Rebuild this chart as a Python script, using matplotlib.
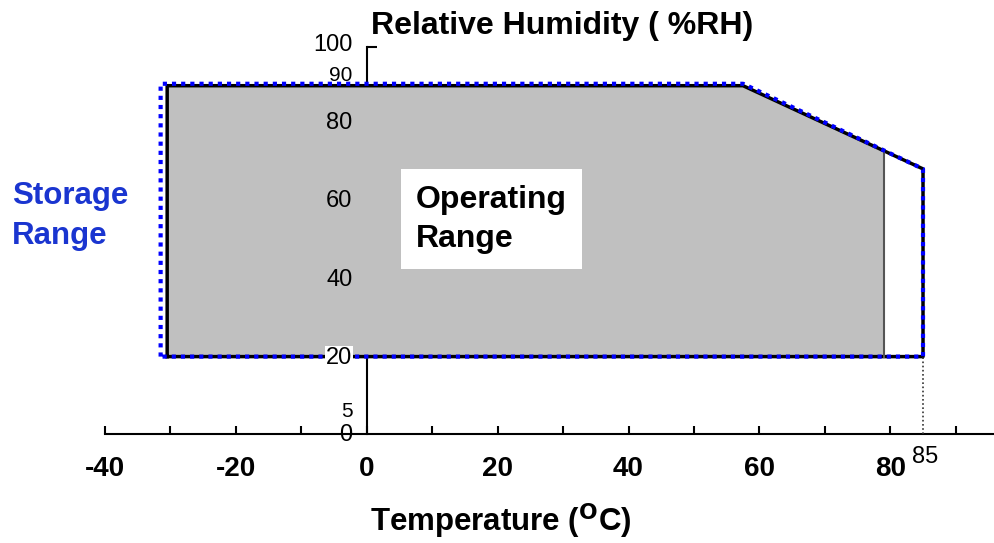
import matplotlib
matplotlib.use("Agg")
import matplotlib.pyplot as plt
from matplotlib import rcParams

rcParams['font.family'] = 'Liberation Sans'

# operating range outline (temperature degC, humidity %RH)
op_temp = [-30.5, -30.5, 57.5, 79, 79]
op_rh = [20, 90, 90, 73, 20]

# storage range outline
st_temp = [-31.5, -31.5, 57.5, 85, 85]
st_rh = [20, 90.5, 90.5, 68.5, 20]

x_ticks = list(range(-40, 100, 10))
x_labels = [-40, -20, 0, 20, 40, 60, 80]
y_ticks = [40, 60, 80, 100]
y_labels = [100, 90, 80, 60, 40, 20, 5, 0]

fig = plt.figure(figsize=(9.95, 5.43), dpi=100)
ax = fig.add_axes([105 / 995, 109 / 543, 890 / 995, 387 / 543])
ax.set_xlim(-39.85, 96.0)
ax.set_ylim(0, 100)

# spines as axes through the origin
for s in ['top', 'right']:
    ax.spines[s].set_visible(False)
ax.spines['left'].set_position(('data', 0))
ax.spines['left'].set_bounds(0, 100)
ax.spines['bottom'].set_position(('data', 0))
for s in ['left', 'bottom']:
    ax.spines[s].set_linewidth(1.5)
    ax.spines[s].set_zorder(1)

ax.set_xticks(x_ticks)
ax.set_yticks(y_ticks)
ax.tick_params(axis='x', direction='in', length=6, width=1.5, labelbottom=False)
ax.tick_params(axis='y', direction='in', length=7, width=1.5, labelleft=False)

# storage: white area
ax.fill(st_temp, st_rh, color='white', zorder=2)
# operating: grey area
ax.fill(op_temp, op_rh, facecolor='#c0c0c0', edgecolor='none', zorder=3)
# black outline of the whole region
ax.plot(op_temp[:3] + st_temp[3:] + [op_temp[0]], op_rh[:3] + st_rh[3:] + [op_rh[0]],
        color='black', lw=2.5, zorder=4)
# thin edge of operating range at its upper temperature
ax.plot([op_temp[-1], op_temp[-1]], [op_rh[-1], op_rh[-2]], color='#555555', lw=1.5, zorder=5)
# blue dotted storage outline
ax.plot(st_temp + [st_temp[0]], st_rh + [st_rh[0]], color='#0000ff', lw=3,
        linestyle=(0, (1, 1.2)), zorder=6)

# dotted drop line at 85
ax.plot([85, 85], [0, 20], color='#333333', lw=1.2, linestyle=(0, (1, 1.5)), zorder=4)

# tick labels
for v in x_labels:
    ax.text(v, -9.0, str(v), ha='center', va='center', fontsize=20,
            fontweight='bold', clip_on=False)
ax.text(85.3, -6.0, '85', ha='center', va='center', fontsize=17, clip_on=False)

y_pos = {100: 100.5, 90: 92.7, 80: 80.3, 60: 60.3, 40: 39.8, 20: 19.7, 5: 5.8, 0: -0.2}
for v in y_labels:
    kw = {}
    if v == 20:
        kw['bbox'] = dict(facecolor='white', edgecolor='none', pad=0.5)
    ax.text(-2.2, y_pos[v], str(v), ha='right', va='center',
            fontsize=15 if v in (90, 5) else 17, zorder=7, clip_on=False, **kw)

# operating range label
ax.text(7.5, 55.5, 'Operating\nRange', ha='left', va='center', fontsize=23,
        fontweight='bold', linespacing=1.4, zorder=7,
        bbox=dict(facecolor='white', edgecolor='none', pad=11))

fig.text(12 / 995, 1 - 216 / 543, 'Storage\nRange', ha='left', va='center',
         fontsize=22.5, fontweight='bold', color='#1a35d0', linespacing=1.4)

fig.text(562 / 995, 1 - 26 / 543, 'Relative Humidity ( %RH)', ha='center',
         va='center', fontsize=23, fontweight='bold')
fig.text(501 / 995, 1 - 521 / 543, r'Temperature ($\mathbf{^{O}}$C)', ha='center',
         va='center', fontsize=22.5, fontweight='bold')

fig.savefig('out.png', dpi=100, facecolor='white')
